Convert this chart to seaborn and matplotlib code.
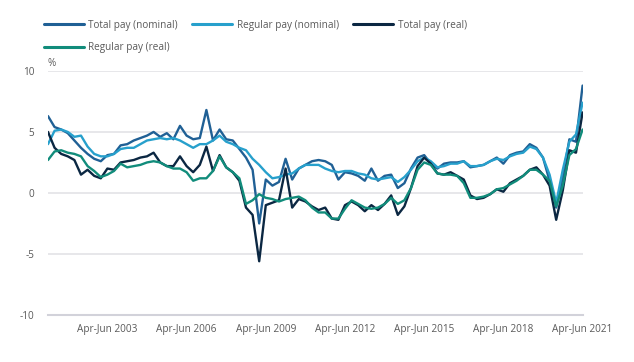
import pandas as pd
import matplotlib
matplotlib.use("Agg")
import matplotlib.pyplot as plt
import seaborn as sns

# three-month periods, Jan-Mar 2001 to Apr-Jun 2021 (quarterly readings)
quarters = ["Jan-Mar", "Apr-Jun", "Jul-Sep", "Oct-Dec"]
periods = [f"{q} {y}" for y in range(2001, 2022) for q in quarters][:82]

total_nominal = [
    6.3, 5.4, 5.2, 4.9, 4.3, 3.7, 3.2, 2.8, 2.6, 3.1,
    3.2, 3.9, 4.0, 4.3, 4.5, 4.7, 5.0, 4.6, 4.9, 4.4,
    5.5, 4.7, 4.4, 4.5, 6.8, 4.3, 5.2, 4.4, 4.3, 3.6,
    2.9, 1.9, -2.5, 1.1, 0.6, 0.9, 2.8, 1.1, 2.0, 2.3,
    2.6, 2.7, 2.6, 2.3, 1.1, 1.7, 1.6, 1.4, 1.0, 2.0,
    1.0, 1.4, 1.5, 0.4, 0.8, 2.0, 2.9, 3.1, 2.4, 2.0,
    2.4, 2.5, 2.5, 2.6, 2.1, 2.2, 2.3, 2.6, 2.9, 2.4,
    3.1, 3.3, 3.4, 4.0, 3.7, 2.9, 1.0, -1.2, 1.3, 4.4,
    4.2, 8.8,
]
regular_nominal = [
    4.0, 5.1, 5.2, 5.0, 4.6, 4.7, 3.8, 3.2, 3.0, 3.0,
    3.2, 3.6, 3.7, 3.7, 4.0, 4.3, 4.4, 4.5, 4.4, 4.5,
    4.3, 4.0, 3.7, 4.0, 4.0, 4.3, 4.7, 4.2, 4.0, 3.7,
    3.5, 2.8, 2.3, 1.7, 1.2, 1.3, 1.5, 1.6, 2.0, 2.3,
    2.3, 2.3, 2.0, 1.8, 1.7, 1.8, 1.8, 1.6, 1.5, 1.2,
    1.1, 1.2, 1.3, 0.9, 1.3, 1.9, 2.6, 2.9, 2.6, 2.1,
    2.2, 2.4, 2.4, 2.6, 2.2, 2.2, 2.3, 2.6, 2.8, 2.7,
    3.0, 3.2, 3.3, 3.8, 3.6, 2.9, 1.5, -0.8, 1.9, 4.2,
    4.8, 7.4,
]
total_real = [
    5.0, 3.7, 3.2, 3.0, 2.7, 1.5, 1.9, 1.4, 1.2, 2.0,
    1.9, 2.5, 2.6, 2.7, 2.9, 3.0, 3.3, 2.5, 2.2, 2.2,
    3.0, 2.2, 1.7, 2.3, 3.8, 1.8, 3.1, 2.1, 1.7, 1.0,
    -1.2, -1.8, -5.6, -1.0, -0.8, -0.6, 2.0, -1.2, -0.5, -0.7,
    -1.1, -1.4, -1.2, -2.1, -2.2, -1.0, -0.7, -1.0, -1.5, -1.0,
    -1.4, -0.9, -0.2, -1.8, -1.1, 0.4, 2.2, 2.9, 2.4, 1.6,
    1.5, 1.7, 1.4, 1.1, -0.2, -0.5, -0.4, -0.1, 0.3, 0.1,
    0.8, 1.1, 1.4, 1.9, 2.1, 1.5, 0.6, -2.2, 0.2, 3.5,
    3.3, 6.6,
]
regular_real = [
    2.7, 3.4, 3.5, 3.3, 3.2, 3.0, 2.2, 1.8, 1.3, 1.5,
    1.8, 2.4, 2.1, 2.2, 2.3, 2.5, 2.6, 2.5, 2.2, 2.0,
    2.0, 1.7, 1.0, 1.2, 1.2, 1.8, 3.0, 2.1, 1.7, 1.2,
    -0.9, -0.6, -0.1, -0.4, -0.5, -0.7, -0.5, -0.4, -0.3, -0.6,
    -1.2, -1.6, -1.6, -2.1, -2.1, -1.3, -0.6, -0.9, -1.2, -1.3,
    -1.2, -0.9, -0.4, -0.9, -0.6, 0.4, 1.9, 2.5, 2.3, 1.6,
    1.5, 1.5, 1.4, 0.8, -0.4, -0.4, -0.3, -0.1, 0.3, 0.4,
    0.7, 1.0, 1.4, 1.9, 1.9, 1.5, 1.0, -1.1, 0.6, 3.1,
    3.6, 5.2,
]

series = {
    "Total pay (nominal)": total_nominal,
    "Regular pay (nominal)": regular_nominal,
    "Total pay (real)": total_real,
    "Regular pay (real)": regular_real,
}
colours = ["#206095", "#27a0cc", "#0b2742", "#118c7b"]
tick_years = [2003, 2006, 2009, 2012, 2015, 2018, 2021]

df = pd.DataFrame({"period": periods, "pos": range(len(periods))})
long = pd.concat(
    [df.assign(series=name, value=vals) for name, vals in series.items()],
    ignore_index=True,
)

sns.set_style("white")
plt.rcParams["font.family"] = ["Open Sans", "DejaVu Sans"]
text_col = "#5a5a5a"
fs = 7.2

fig = plt.figure(figsize=(6.34, 3.62), dpi=100)
ax = fig.add_axes([0.0757, 0.130, 0.8432, 0.674])

sns.lineplot(data=long, x="pos", y="value", hue="series",
             palette=dict(zip(series.keys(), colours)),
             linewidth=1.7, ax=ax, legend=False)

ax.set_xlim(0, len(periods) - 1)
ax.set_ylim(-10, 10)
ax.set_yticks([-10, -5, 0, 5, 10])
ax.set_yticklabels(["-10", "-5", "0", "5", "10"])
ax.yaxis.grid(True, color="#e3e3e6", linewidth=1.2)
ax.set_axisbelow(True)

tick_pos = [i for i, p in enumerate(periods)
            if p.startswith("Apr-Jun") and int(p[-4:]) in tick_years]
ax.set_xticks(tick_pos)
ax.set_xticklabels([periods[i] for i in tick_pos])

for s in ["top", "right", "left"]:
    ax.spines[s].set_visible(False)
ax.spines["bottom"].set_color("#d2d2da")
ax.spines["bottom"].set_linewidth(1.5)
ax.tick_params(axis="x", length=5, width=1, color="#d2d2da",
               labelsize=fs, labelcolor=text_col, pad=1.5)
ax.tick_params(axis="y", length=0, labelsize=fs, labelcolor=text_col, pad=10)
ax.set_xlabel("")
ax.set_ylabel("")
ax.text(0.0, 1.03, "%", transform=ax.transAxes, fontsize=fs,
        color=text_col, va="center", ha="left")

# legend laid out row by row (matplotlib fills columns first)
names = list(series.keys())
handles = [plt.Line2D([], [], color=c, linewidth=2.2) for c in colours]
order = [0, 3, 1, 2]
fig.legend([handles[i] for i in order], [names[i] for i in order],
           loc="upper left", bbox_to_anchor=(0.069, 0.946), ncol=3,
           frameon=False, fontsize=fs, labelcolor=text_col,
           handlelength=4.0, handletextpad=0.45, columnspacing=1.45,
           labelspacing=1.15, borderpad=0, borderaxespad=0)

fig.savefig("out.png", dpi=100)
